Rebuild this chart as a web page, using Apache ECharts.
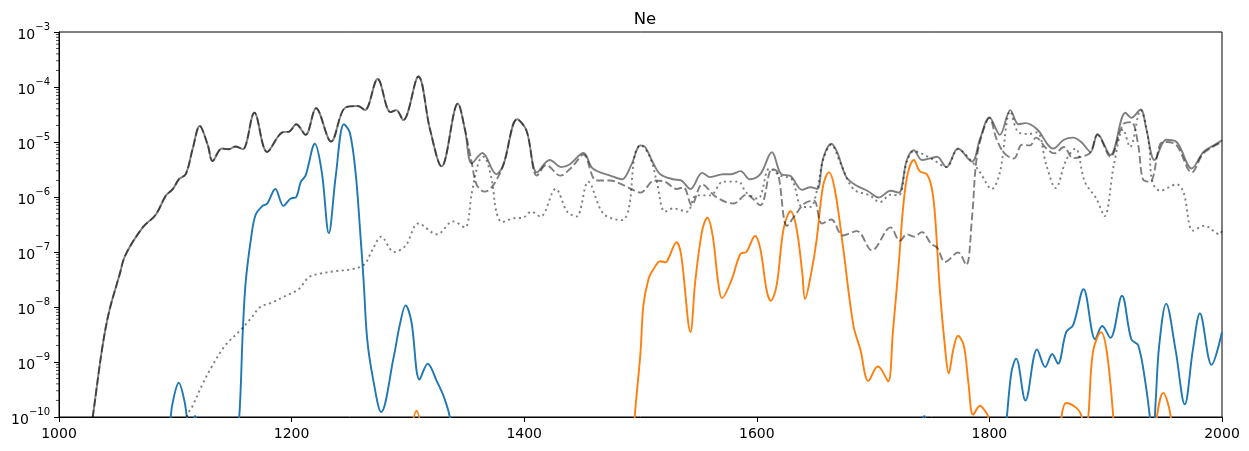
<!DOCTYPE html>
<html>
<head>
<meta charset="utf-8">
<title>Ne</title>
<script src="https://cdn.jsdelivr.net/npm/echarts@6/dist/echarts.min.js"></script>
<style>
  html, body { margin: 0; padding: 0; background: #fff; }
  #chart { width: 1249px; height: 451px; }
</style>
</head>
<body>
<div id="chart"></div>
<script>
// 横轴刻度 / 纵轴（对数）刻度
const xTicks = [1000, 1200, 1400, 1600, 1800, 2000];
const yMin = 1e-10;
const yMax = 1e-3;

// 灰色实线与虚线在 ~1350 之前重合的部分
const sharedHead = [
  [1022, 1e-11], [1029, 1e-10], [1037, 1.7e-9], [1043, 8.1e-9], [1052, 3.8e-8], [1057, 8.7e-8],
  [1072, 2.8e-7], [1083, 4.7e-7], [1092, 1.07e-6], [1098, 1.4e-6], [1103, 2.1e-6], [1109, 2.6e-6],
  [1115, 7.6e-6], [1121, 1.95e-5], [1128, 8.7e-6], [1132, 4.5e-6], [1140, 7.6e-6], [1146, 7.4e-6],
  [1152, 8.3e-6], [1158, 7.4e-6], [1168, 3.4e-5], [1179, 6.6e-6], [1192, 1.5e-5], [1198, 1.55e-5],
  [1204, 2.1e-5], [1212, 1.35e-5], [1221, 4.1e-5], [1234, 1.02e-5], [1246, 4.2e-5], [1257, 4.5e-5],
  [1263, 3.8e-5], [1274, 1.4e-4], [1285, 3.5e-5], [1290, 3.8e-5], [1296, 2.5e-5], [1309, 1.55e-4],
  [1319, 1.7e-5], [1329, 3.6e-6], [1343, 5.0e-5], [1349, 1.7e-5], [1355, 4.1e-6]
];

// 灰色实线（总量）
const totalTail = [
  [1364, 6.3e-6], [1376, 2.6e-6], [1382, 3.8e-6], [1394, 2.6e-5], [1402, 1.6e-5], [1411, 2.8e-6],
  [1422, 4.7e-6], [1432, 3.5e-6], [1439, 3.9e-6], [1451, 6.3e-6], [1459, 3.3e-6], [1474, 2.45e-6],
  [1484, 2.1e-6], [1492, 3.8e-6], [1500, 8.7e-6], [1504, 8.1e-6], [1511, 4.1e-6], [1517, 2.6e-6],
  [1528, 2.1e-6], [1535, 2.0e-6], [1543, 1.4e-6], [1553, 2.75e-6], [1560, 2.3e-6], [1571, 2.6e-6],
  [1578, 2.6e-6], [1586, 2.95e-6], [1594, 2.1e-6], [1603, 2.6e-6], [1613, 6.5e-6], [1621, 2.6e-6],
  [1629, 2.4e-6], [1639, 1.35e-6], [1646, 1.5e-6], [1652, 1.4e-6], [1657, 5.0e-6], [1664, 9.3e-6],
  [1669, 6.6e-6], [1677, 2.3e-6], [1686, 1.6e-6], [1695, 1.3e-6], [1705, 9.8e-7], [1715, 1.3e-6],
  [1722, 1.2e-6], [1729, 4.7e-6], [1735, 7.1e-6], [1742, 4.7e-6], [1750, 5.1e-6], [1755, 5.4e-6],
  [1763, 3.5e-6], [1773, 7.6e-6], [1785, 4.4e-6], [1792, 1.15e-5], [1800, 2.8e-5], [1809, 1.35e-5],
  [1818, 3.8e-5], [1825, 2.1e-5], [1831, 2.2e-5], [1841, 1.7e-5], [1855, 7.6e-6], [1864, 1.1e-5],
  [1872, 1.2e-5], [1879, 1.0e-5], [1887, 6.6e-6], [1893, 1.4e-5], [1904, 5.8e-6], [1917, 3.4e-5],
  [1922, 2.75e-5], [1930, 3.9e-5], [1935, 1.7e-5], [1942, 4.7e-6], [1952, 1.1e-5], [1961, 1.0e-5],
  [1974, 3.3e-6], [1984, 6.6e-6], [1993, 8.7e-6], [2000, 1.07e-5]
];

// 灰色虚线
const dashedTail = [
  [1359, 1.7e-6], [1366, 1.25e-6], [1373, 1.6e-6], [1382, 3.8e-6], [1394, 2.6e-5], [1402, 1.6e-5],
  [1411, 2.45e-6], [1419, 3.8e-6], [1431, 2.45e-6], [1441, 3.5e-6], [1451, 5.9e-6], [1462, 2.0e-6],
  [1474, 2.0e-6], [1484, 1.7e-6], [1492, 1.4e-6], [1500, 1.2e-6], [1512, 2.0e-6], [1521, 1.9e-6],
  [1531, 1.4e-6], [1537, 1.5e-6], [1544, 7.1e-7], [1553, 1.7e-6], [1565, 1.0e-6], [1580, 7.6e-7],
  [1591, 1.1e-6], [1603, 7.1e-7], [1613, 3.2e-6], [1618, 2.8e-6], [1626, 3.0e-7], [1633, 4.7e-7],
  [1641, 7.6e-7], [1649, 8.7e-7], [1656, 3.3e-7], [1664, 3.9e-7], [1674, 2.0e-7], [1686, 2.4e-7],
  [1699, 1.07e-7], [1715, 2.8e-7], [1723, 1.6e-7], [1729, 2.1e-7], [1735, 1.9e-7], [1742, 2.3e-7],
  [1750, 1.4e-7], [1755, 1.2e-7], [1762, 6.6e-8], [1773, 9.8e-8], [1780, 5.8e-8], [1785, 4.1e-7],
  [1789, 5.0e-6], [1795, 1.7e-5], [1800, 2.75e-5], [1806, 1.15e-5], [1813, 6.2e-6], [1821, 5.0e-6],
  [1828, 8.9e-6], [1835, 8.7e-6], [1840, 1.2e-5], [1849, 7.6e-6], [1856, 6.2e-6], [1864, 8.1e-6],
  [1872, 5.1e-6], [1882, 5.6e-6], [1887, 6.5e-6], [1893, 1.35e-5], [1904, 5.4e-6], [1915, 2.1e-5],
  [1922, 2.3e-5], [1928, 8.7e-6], [1932, 2.1e-6], [1938, 1.9e-6], [1947, 9.3e-6], [1952, 1.0e-5],
  [1961, 8.7e-6], [1974, 2.8e-6], [1984, 6.2e-6], [2000, 1.0e-5]
];

// 灰色点线
const dottedData = [
  [1106, 1e-11], [1110, 1e-10], [1115, 1.6e-10], [1123, 3.8e-10], [1132, 8.7e-10], [1143, 2.0e-9],
  [1156, 3.8e-9], [1165, 6.2e-9], [1173, 1.0e-8], [1183, 1.2e-8], [1195, 1.6e-8], [1206, 2.1e-8],
  [1215, 3.5e-8], [1226, 4.1e-8], [1238, 4.5e-8], [1250, 4.8e-8], [1262, 5.8e-8], [1270, 1.15e-7],
  [1277, 1.9e-7], [1288, 1.0e-7], [1298, 1.3e-7], [1309, 3.3e-7], [1325, 2.1e-7], [1339, 3.6e-7],
  [1349, 2.8e-7], [1355, 1.2e-6], [1361, 4.4e-6], [1365, 5.4e-6], [1372, 2.1e-6], [1376, 5.4e-7],
  [1381, 3.5e-7], [1391, 4.1e-7], [1399, 4.2e-7], [1406, 5.4e-7], [1414, 4.4e-7], [1427, 1.4e-6],
  [1437, 5.4e-7], [1445, 4.4e-7], [1455, 1.9e-6], [1468, 5.0e-7], [1484, 3.8e-7], [1490, 6.2e-7],
  [1495, 5.8e-6], [1500, 8.7e-6], [1508, 5.4e-6], [1514, 1.9e-6], [1521, 5.4e-7], [1528, 6.2e-7],
  [1540, 5.4e-7], [1548, 1.07e-6], [1560, 1.07e-6], [1571, 1.9e-6], [1584, 1.9e-6], [1591, 1.2e-6],
  [1601, 9.3e-7], [1611, 3.3e-6], [1620, 2.45e-6], [1630, 2.1e-6], [1639, 6.6e-7], [1646, 6.6e-7],
  [1652, 1.4e-6], [1657, 4.7e-6], [1664, 8.9e-6], [1672, 4.1e-6], [1683, 1.4e-6], [1697, 1.07e-6],
  [1706, 8.1e-7], [1715, 1.1e-6], [1722, 1.07e-6], [1729, 4.4e-6], [1735, 6.8e-6], [1750, 5.0e-6],
  [1763, 3.5e-6], [1773, 7.4e-6], [1785, 4.4e-6], [1792, 2.8e-6], [1802, 1.4e-6], [1809, 2.8e-6],
  [1818, 3.6e-5], [1825, 1.5e-5], [1834, 1.4e-5], [1841, 1.5e-5], [1849, 3.8e-6], [1857, 1.45e-6],
  [1866, 4.7e-6], [1874, 7.6e-6], [1882, 1.9e-6], [1892, 9.3e-7], [1899, 4.5e-7], [1907, 3.8e-6],
  [1915, 1.7e-5], [1921, 8.1e-6], [1930, 3.8e-5], [1937, 1.0e-5], [1940, 1.9e-6], [1947, 1.3e-6],
  [1961, 1.7e-6], [1967, 1.2e-6], [1975, 2.45e-7], [1985, 3.0e-7], [1998, 2.1e-7], [2000, 2.5e-7]
];

// 蓝色实线（null 处断开）
const blueData = [
  [1094, 1e-11], [1096, 1e-10], [1099, 2.45e-10], [1103, 4.2e-10], [1108, 1.9e-10], [1110, 1e-10],
  [1113, 6e-11], [1117, 1.05e-10], [1121, 5e-11], [1124, null],
  [1150, 1e-11], [1155, 1e-10], [1158, 3.5e-9], [1160.5, 2.8e-8], [1165, 1.7e-7], [1169, 4.7e-7],
  [1175, 6.9e-7], [1179, 7.6e-7], [1186, 1.4e-6], [1193, 6.9e-7], [1199, 9.3e-7], [1204, 1.0e-6],
  [1208, 1.9e-6], [1212, 2.45e-6], [1220, 9.3e-6], [1226, 2.8e-6], [1232, 2.2e-7], [1238, 2.45e-6],
  [1245, 2.1e-5], [1250, 1.5e-5], [1255, 2.8e-6], [1259, 2.3e-7], [1262, 2.8e-8], [1265, 2.6e-9],
  [1270, 5.0e-10], [1277, 1.23e-10], [1288, 1.3e-9], [1293, 4.7e-9], [1298, 1.07e-8], [1303, 5.4e-9],
  [1310, 4.8e-10], [1317, 9.3e-10], [1325, 4.4e-10], [1331, 2.3e-10], [1336, 1e-10], [1342, 1e-11],
  [1343, null],
  [1740, 5e-11], [1744, 1.05e-10], [1748, 5e-11], [1749, null],
  [1810, 1e-11], [1815, 1e-10], [1819, 6.6e-10], [1823, 1.15e-9], [1831, 2.0e-10], [1841, 1.7e-9],
  [1848, 8.1e-10], [1854, 1.4e-9], [1859, 9.3e-10], [1866, 3.5e-9], [1872, 4.7e-9], [1881, 2.1e-8],
  [1891, 2.6e-9], [1897, 4.5e-9], [1904, 2.75e-9], [1914, 1.6e-8], [1922, 2.6e-9], [1928, 2.0e-9],
  [1934, 4.4e-10], [1938, 1e-10], [1940.5, 3e-11], [1943, 2e-10], [1946, 2e-9], [1952, 1.15e-8],
  [1960, 1.7e-9], [1968, 1.7e-10], [1975, 1.7e-9], [1981, 7.6e-9], [1991, 8.9e-10], [2000, 3.5e-9]
];

// 橙色实线（null 处断开）
const orangeData = [
  [1302, 5e-11], [1307.5, 1.3e-10], [1312, 5e-11], [1313, null],
  [1492, 1e-11], [1495, 1e-10], [1500, 1.5e-9], [1502.5, 1.07e-8], [1507, 3.3e-8], [1511, 4.8e-8],
  [1517, 6.8e-8], [1522, 6.5e-8], [1524, 7.6e-8], [1531, 1.5e-7], [1535, 8.7e-8], [1543, 3.5e-9],
  [1547, 2.8e-8], [1553, 2.45e-7], [1557.5, 4.2e-7], [1562, 2.0e-7], [1567, 2.6e-8], [1570, 1.45e-8],
  [1578, 3.0e-8], [1586, 9.3e-8], [1591, 1.0e-7], [1598.5, 1.95e-7], [1603, 1.15e-7], [1608.5, 2.0e-8],
  [1612, 1.3e-8], [1617, 2.45e-8], [1623, 2.6e-7], [1629, 5.5e-7], [1634, 2.8e-7], [1639, 4.4e-8],
  [1641.5, 1.4e-8], [1647, 4.4e-8], [1651.5, 1.7e-7], [1657, 1.6e-6], [1662, 2.8e-6], [1667, 1.4e-6],
  [1674, 1.3e-7], [1683, 4.7e-9], [1689, 1.7e-9], [1696, 4.5e-10], [1704, 8.3e-10], [1707, 7.4e-10],
  [1713, 4.4e-10], [1717, 3.5e-9], [1722, 5.8e-8], [1726, 7.1e-7], [1730, 2.8e-6], [1735, 4.7e-6],
  [1740, 2.95e-6], [1746, 2.6e-6], [1750, 1.6e-6], [1753, 5.4e-7], [1757.5, 1.9e-8], [1762, 1.7e-9],
  [1765, 6.2e-10], [1769, 1.7e-9], [1773, 3.0e-9], [1778, 2.0e-9], [1782, 4.1e-10], [1786, 1.1e-10],
  [1792, 1.6e-10], [1795, 1.4e-10], [1799, 1e-10], [1802, 1e-11], [1803, null],
  [1858, 1e-11], [1862, 1e-10], [1866, 1.8e-10], [1875, 1.45e-10], [1879, 1.07e-10], [1882, 5e-11],
  [1885, 1e-10], [1889, 1.5e-9], [1896, 3.5e-9], [1901, 1.5e-9], [1906.5, 1e-10], [1909, 1e-11],
  [1910, null],
  [1941, 1e-11], [1944, 1e-10], [1949.5, 2.75e-10], [1956, 1e-10], [1959, 1e-11]
];

const totalData = sharedHead.concat(totalTail);
const dashedData = sharedHead.concat(dashedTail);

// 对数轴次刻度（2~9 × 10^n）
const minorTickValues = [];
for (let e = -10; e < -3; e++) {
  for (let m = 2; m <= 9; m++) {
    minorTickValues.push([1000, m * Math.pow(10, e)]);
  }
}

const FONT = 'DejaVu Sans';
const GRAY = 'rgba(0,0,0,0.5)';
const LW = 1.9;

function lineSeries(name, data, color, type) {
  return {
    name: name,
    type: 'line',
    data: data,
    showSymbol: false,
    smooth: 0.35,
    connectNulls: false,
    clip: true,
    lineStyle: { color: color, width: LW, type: type || 'solid', cap: 'butt' },
    emphasis: { disabled: true }
  };
}

const chart = echarts.init(document.getElementById('chart'), null, { renderer: 'canvas' });

const option = {
  animation: false,
  backgroundColor: '#fff',
  title: {
    text: 'Ne',
    left: 640,
    top: 6,
    textAlign: 'center',
    textStyle: { fontFamily: FONT, fontSize: 16.5, fontWeight: 'normal', color: '#000' }
  },
  grid: {
    left: 59, right: 27, top: 32, bottom: 34,
    show: true, borderColor: '#000', borderWidth: 1, backgroundColor: 'transparent'
  },
  xAxis: {
    type: 'value',
    min: 1000,
    max: 2000,
    interval: 200,
    axisLine: { show: true, lineStyle: { color: '#000', width: 1 } },
    axisTick: { show: true, inside: false, length: 5, lineStyle: { color: '#000', width: 1 } },
    axisLabel: {
      margin: 10,
      fontFamily: FONT, fontSize: 14, color: '#000',
      formatter: function (v) { return xTicks.indexOf(v) >= 0 ? String(v) : ''; }
    },
    splitLine: { show: false }
  },
  yAxis: {
    type: 'log',
    logBase: 10,
    min: yMin,
    max: yMax,
    interval: 1,
    axisLine: { show: true, lineStyle: { color: '#000', width: 1 } },
    axisTick: { show: true, inside: false, length: 5, lineStyle: { color: '#000', width: 1 } },
    axisLabel: {
      margin: 9,
      fontFamily: FONT, color: '#000',
      formatter: function (v) {
        const e = Math.round(Math.log10(v));
        return '{b|10}{s|\u2212' + Math.abs(e) + '}';
      },
      rich: {
        b: { fontFamily: FONT, fontSize: 14, lineHeight: 20, verticalAlign: 'bottom', color: '#000', padding: [2, 0, 0, 0] },
        s: { fontFamily: FONT, fontSize: 10, lineHeight: 12, verticalAlign: 'top', color: '#000' }
      }
    },
    splitLine: { show: false }
  },
  series: [
    lineSeries('blue', blueData, '#1f77b4'),
    lineSeries('orange', orangeData, '#ff7f0e'),
    lineSeries('total', totalData, GRAY),
    lineSeries('dashed', dashedData, GRAY, [7.7, 3.3]),
    lineSeries('dotted', dottedData, GRAY, [2.1, 3.4]),
    {
      // 次刻度线，坐标由对数轴换算
      type: 'custom',
      silent: true,
      clip: false,
      z: 5,
      data: minorTickValues,
      renderItem: function (params, api) {
        const p = api.coord([api.value(0), api.value(1)]);
        return {
          type: 'line',
          shape: { x1: p[0] - 3, y1: p[1], x2: p[0], y2: p[1] },
          style: { stroke: '#000', lineWidth: 0.7 }
        };
      }
    }
  ]
};

chart.setOption(option);
</script>
</body>
</html>
